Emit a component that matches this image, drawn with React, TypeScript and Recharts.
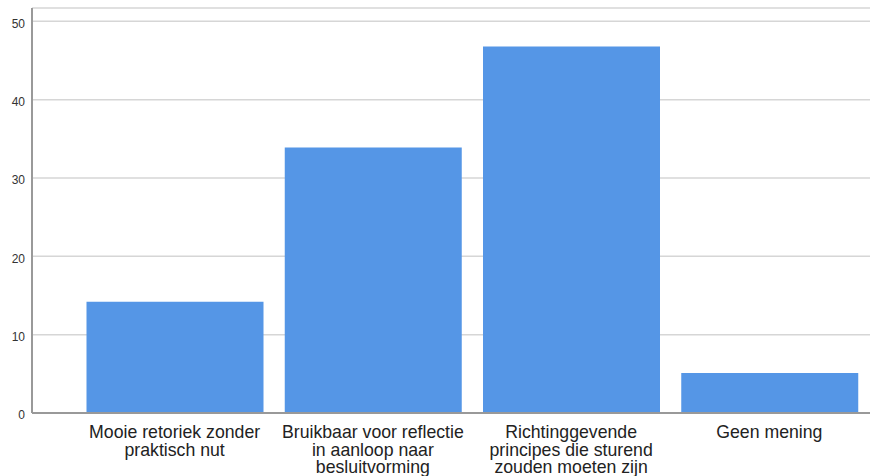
import { BarChart, Bar, XAxis, YAxis, CartesianGrid } from 'recharts'

const categories = [
  'Mooie retoriek zonder praktisch nut',
  'Bruikbaar voor reflectie in aanloop naar besluitvorming',
  'Richtinggevende principes die sturend zouden moeten zijn',
  'Geen mening',
]

const labelLines = [
  ['Mooie retoriek zonder', 'praktisch nut'],
  ['Bruikbaar voor reflectie', 'in aanloop naar', 'besluitvorming'],
  ['Richtinggevende', 'principes die sturend', 'zouden moeten zijn'],
  ['Geen mening'],
]

const counts = [14.2, 33.9, 46.8, 5.1]

const yTicks = [0, 10, 20, 30, 40, 50]

const data = categories.map((name, i) => ({ name, count: counts[i] }))

const FONT = '"Liberation Sans", Arial, sans-serif'

function CategoryTick({ x, y, index }: any) {
  const lines = labelLines[index] ?? []
  return (
    <text x={x} y={y} textAnchor="middle" fontFamily={FONT} fontSize={17.7} fill="#222">
      {lines.map((l, i) => (
        <tspan key={i} x={x} y={y + 17 + i * 17.5}>{l}</tspan>
      ))}
    </text>
  )
}

export default function App() {
  return (
    <div style={{ position: 'absolute', left: 0, top: 0, background: '#fff' }}>
      <BarChart width={870} height={476} data={data} margin={{ top: 8, right: 0, left: 0, bottom: 0 }}>
        <CartesianGrid vertical={false} stroke="#d6d6d6" strokeWidth={1.5} />
        <XAxis
          dataKey="name"
          height={63}
          interval={0}
          tick={<CategoryTick />}
          tickLine={false}
          axisLine={{ stroke: '#999', strokeWidth: 2 }}
          padding={{ left: 43.5, right: 1.5 }}
        />
        <YAxis
          width={32}
          domain={[0, 51.7]}
          ticks={yTicks}
          tickLine={false}
          tickSize={0}
          tickMargin={7}
          axisLine={{ stroke: '#999', strokeWidth: 2 }}
          tick={{ fill: '#333', fontSize: 12, fontFamily: FONT, dy: 2 }}
        />
        <Bar dataKey="count" fill="#5596e6" barSize={177} isAnimationActive={false} />
      </BarChart>
    </div>
  )
}
